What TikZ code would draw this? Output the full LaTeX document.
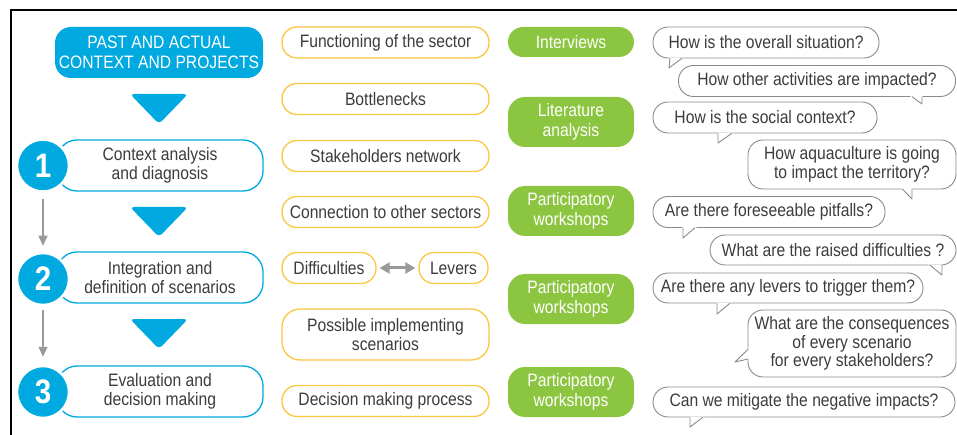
\documentclass[tikz,border=0pt]{standalone}
\usepackage{fontspec}
\setmainfont[FakeStretch=0.87]{Liberation Sans}
\usetikzlibrary{arrows.meta}
\definecolor{myblue}{HTML}{00A9E0}
\definecolor{mygreen}{HTML}{8CC540}
\definecolor{myyellow}{HTML}{FBC640}
\definecolor{txtgray}{HTML}{3C3C3C}
\definecolor{bubgray}{HTML}{8A8A8A}
\definecolor{arrgray}{HTML}{9A9A9A}
\newcommand\mytail[3]{%
  \filldraw[white, line width=1.3pt] #1 -- #2 -- #3 -- cycle;
  \draw[bubgray, line width=0.9pt, line join=round] #1 -- #2 -- #3;}
\begin{document}
\begin{tikzpicture}[x=1pt,y=-1pt,
  every node/.style={font=\fontsize{18}{19.5}\selectfont, text=txtgray, align=center, inner sep=0pt},
  pastbox/.style={fill=myblue, text=white, rounded corners=16pt, minimum width=208pt, minimum height=51pt, font=\fontsize{18}{20}\selectfont},
  stepbox/.style={draw=myblue, line width=1.3pt, fill=white, rounded corners=20pt, minimum width=206pt, minimum height=51pt},
  numcirc/.style={circle, fill=myblue, draw=white, line width=2.5pt, minimum size=52pt, text=white, font=\fontsize{34}{34}\selectfont\bfseries},
  ybox/.style={draw=myyellow, line width=1.3pt, fill=white, rounded corners=15pt, minimum height=31pt},
  gbox/.style={fill=mygreen, text=white, rounded corners=15pt, minimum width=126pt, minimum height=30pt},
  bubble/.style={draw=bubgray, line width=0.9pt, fill=white, rounded corners=15pt, minimum height=31pt},
  grayarrow/.style={draw=arrgray, line width=1.5pt, -{Triangle[width=9pt,length=10pt]}},
  tri/.style={fill=myblue, rounded corners=4pt}]
\useasboundingbox (0,0) rectangle (957,435);
% frame
\draw[line width=2pt, black] (957,10) -- (11,10) -- (11,436);

% left column
\node[pastbox] (past) at (159,52.5) {PAST AND ACTUAL\\CONTEXT AND PROJECTS};
\fill[tri] (130,94) -- (188,94) -- (159,124) -- cycle;
\node[stepbox] (s1) at (160,165.5) {Context analysis\\and diagnosis};
\node[numcirc] (c1) at (43,165.5) {1};
\fill[tri] (130,207) -- (188,207) -- (159,237) -- cycle;
\node[stepbox] (s2) at (160,277.5) {Integration and\\definition of scenarios};
\node[numcirc] (c2) at (43,279) {2};
\fill[tri] (130,319) -- (188,319) -- (159,349) -- cycle;
\node[stepbox] (s3) at (160,391.5) {Evaluation and\\decision making};
\node[numcirc] (c3) at (43,392) {3};
\draw[grayarrow, shorten <=6pt, shorten >=6pt] (c1.south) -- (c2.north);
\draw[grayarrow, shorten <=4pt, shorten >=8pt] (c2.south) -- (c3.north);

% middle column
\node[ybox, minimum width=207pt] (func) at (385.5,42.5) {Functioning of the sector};
\node[ybox, minimum width=207pt] (bott) at (385.5,99) {Bottlenecks};
\node[ybox, minimum width=207pt] (stak) at (385.5,156) {Stakeholders network};
\node[ybox, minimum width=207pt] (conn) at (385.5,212) {Connection to other sectors};
\node[ybox, minimum width=94pt] (diff) at (329,268) {Difficulties};
\node[ybox, minimum width=69pt] (lev) at (453.5,268) {Levers};
\node[ybox, minimum width=207pt, minimum height=51pt, rounded corners=18pt] (poss) at (385.5,334.5) {Possible implementing\\scenarios};
\node[ybox, minimum width=207pt] (deci) at (385.5,401) {Decision making process};
\draw[arrgray, line width=3pt, {Triangle[width=11pt,length=10pt]}-{Triangle[width=11pt,length=10pt]}, shorten <=3pt, shorten >=3pt] (diff) -- (lev);

% green column
\node[gbox] (intv) at (571,42) {Interviews};
\node[gbox, minimum height=50pt, rounded corners=17pt] (lit) at (571,122) {Literature\\analysis};
\node[gbox, minimum height=50pt, rounded corners=17pt] (pw1) at (571,211) {Participatory\\workshops};
\node[gbox, minimum height=50pt, rounded corners=17pt] (pw2) at (571,299) {Participatory\\workshops};
\node[gbox, minimum height=50pt, rounded corners=17pt] (pw3) at (571,392) {Participatory\\workshops};

% bubbles
\node[bubble, minimum width=226pt] (b1) at (766,42.5) {How is the overall situation?};
\mytail{(670,58.2)}{(669,68)}{(682,58.2)}
\node[bubble, minimum width=277pt] (b2) at (817,81) {How other activities are impacted?};
\mytail{(912,96.7)}{(922,104)}{(922,96.7)}
\node[bubble, minimum width=224pt] (b3) at (765,117.5) {How is the social context?};
\mytail{(718,133.2)}{(718,143)}{(732,133.2)}
\node[bubble, minimum width=208pt, minimum height=49pt] (b4) at (852,164.5) {How aquaculture is going\\to impact the territory?};
\mytail{(902,188.7)}{(912,199)}{(912,188.7)}
\node[bubble, minimum width=232pt] (b5) at (769,212) {Are there foreseeable pitfalls?};
\mytail{(683,227.7)}{(683,238)}{(695,227.7)}
\node[bubble, minimum width=246pt, minimum height=30pt] (b6) at (833,250) {What are the raised difficulties ?};
\mytail{(930,265.2)}{(942,275)}{(942,265.2)}
\node[bubble, minimum width=270pt, minimum height=30pt] (b7) at (788,288) {Are there any levers to trigger them?};
\mytail{(717,303.2)}{(717,314)}{(730,303.2)}
\node[bubble, minimum width=208pt, minimum height=67pt, font=\fontsize{18}{18.5}\selectfont] (b8) at (852,343.5) {What are the consequences\\of every scenario\\for every stakeholders?};
\mytail{(748.2,349)}{(735,362)}{(748.2,359)}
\node[bubble, minimum width=302pt, minimum height=30pt] (b9) at (804,402) {Can we mitigate the negative impacts?};
\mytail{(690,417.2)}{(690,427)}{(703,417.2)}
\end{tikzpicture}
\end{document}
